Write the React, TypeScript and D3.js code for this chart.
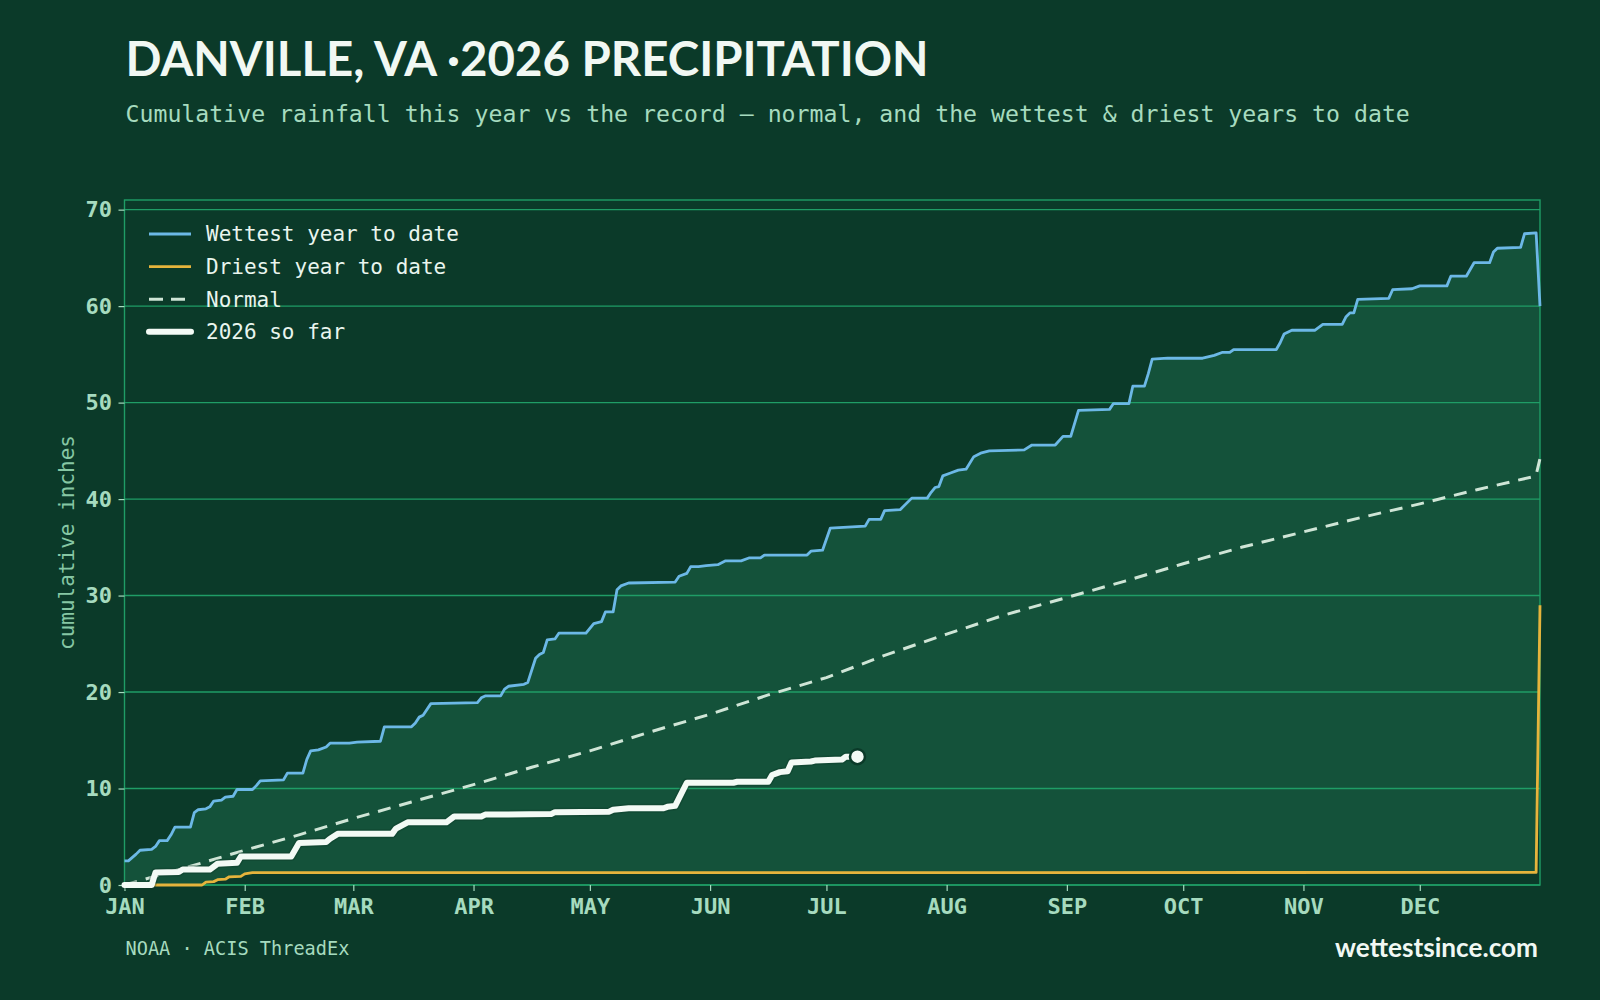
import { useEffect, useRef } from "react";
import * as d3 from "d3";

// day-of-year (0 = Jan 1) and cumulative inches
const wettest: [number, number][] = [
  [0, 2.5], [1, 2.5], [3, 3.2], [4, 3.6], [7, 3.7], [8, 4.0], [9, 4.6], [11, 4.6], [12, 5.2], [13, 6.0],
  [17, 6.0], [18, 7.5], [19, 7.8], [21, 7.9], [22, 8.1], [23, 8.7], [25, 8.8], [26, 9.1], [28, 9.2], [29, 9.9],
  [33, 9.9], [34, 10.3], [35, 10.8], [41, 10.9], [42, 11.6], [46, 11.6], [47, 13.0], [48, 13.9], [50, 14.0],
  [52, 14.3], [53, 14.7], [58, 14.7], [60, 14.8], [66, 14.9], [67, 16.4], [74, 16.4], [75, 16.8], [76, 17.4],
  [77, 17.6], [79, 18.8], [91, 18.9], [92, 19.4], [93, 19.6], [97, 19.6], [98, 20.3], [99, 20.6], [103, 20.8],
  [104, 21.0], [106, 23.5], [107, 23.9], [108, 24.1], [109, 25.4], [111, 25.5], [112, 26.1], [119, 26.1],
  [120, 26.6], [121, 27.1], [123, 27.3], [124, 28.3], [126, 28.3], [127, 30.6], [128, 31.0], [130, 31.3],
  [142, 31.4], [143, 32.0], [145, 32.3], [146, 33.0], [148, 33.0], [150, 33.1], [153, 33.2], [155, 33.6],
  [159, 33.6], [161, 33.9], [164, 33.9], [165, 34.2], [176, 34.2], [177, 34.6], [180, 34.7], [182, 37.0],
  [191, 37.2], [192, 37.9], [195, 37.9], [196, 38.8], [200, 38.9], [203, 40.1], [207, 40.1], [208, 40.7],
  [209, 41.2], [210, 41.3], [211, 42.4], [213, 42.7], [215, 43.0], [217, 43.1], [219, 44.4], [221, 44.8],
  [223, 45.0], [232, 45.1], [234, 45.6], [240, 45.6], [242, 46.5], [244, 46.5], [246, 49.2], [254, 49.3],
  [255, 49.9], [259, 49.9], [260, 51.7], [263, 51.7], [264, 53.0], [265, 54.5], [269, 54.6], [278, 54.6],
  [281, 54.9], [283, 55.2], [285, 55.2], [286, 55.5], [297, 55.5], [298, 56.2], [299, 57.1], [301, 57.5],
  [307, 57.5], [309, 58.1], [314, 58.1], [315, 58.9], [316, 59.3], [317, 59.3], [318, 60.7], [326, 60.8],
  [327, 61.7], [332, 61.8], [334, 62.1], [341, 62.1], [342, 63.1], [346, 63.1], [348, 64.5], [352, 64.5],
  [353, 65.6], [354, 66.0], [360, 66.1], [361, 67.5], [364, 67.6], [365, 60.0],
];

const driest: [number, number][] = [
  [0, 0], [20, 0], [21, 0.3], [23, 0.35], [24, 0.55], [26, 0.6], [27, 0.85], [30, 0.9], [31, 1.15],
  [33, 1.28], [364, 1.3], [365, 29.0],
];

const normal: [number, number][] = [
  [0, 0], [15, 1.7], [31, 3.6], [45, 5.2], [59, 6.9], [74, 8.6], [90, 10.4], [105, 12.2], [120, 13.9],
  [135, 15.8], [151, 17.7], [166, 19.7], [181, 21.5], [196, 23.8], [212, 26.0], [227, 28.0], [243, 29.8],
  [258, 31.5], [273, 33.3], [288, 35.0], [304, 36.6], [319, 38.1], [334, 39.5], [349, 41.0], [363, 42.3],
  [364, 42.5], [365, 44.2],
];

const thisYear: [number, number][] = [
  [0, 0], [7, 0], [8, 1.3], [14, 1.35], [15, 1.6], [22, 1.6], [24, 2.2], [29, 2.3], [30, 2.95], [43, 2.95],
  [45, 4.35], [52, 4.45], [53, 4.8], [55, 5.3], [69, 5.3], [70, 5.85], [73, 6.5], [83, 6.5], [85, 7.1],
  [92, 7.1], [93, 7.3], [110, 7.35], [111, 7.55], [125, 7.6], [126, 7.8], [130, 7.95], [139, 7.95],
  [140, 8.1], [142, 8.2], [143, 9.0], [145, 10.6], [157, 10.6], [158, 10.7], [166, 10.7], [167, 11.4],
  [169, 11.7], [171, 11.8], [172, 12.7], [177, 12.8], [178, 12.9], [185, 13.0], [186, 13.3], [189, 13.3],
];

const monthStarts = [0, 31, 59, 90, 120, 151, 181, 212, 243, 273, 304, 334];
const monthLabels = ["JAN", "FEB", "MAR", "APR", "MAY", "JUN", "JUL", "AUG", "SEP", "OCT", "NOV", "DEC"];
const yTicks = [0, 10, 20, 30, 40, 50, 60, 70];

const legendItems = [
  { label: "Wettest year to date", key: "wet" },
  { label: "Driest year to date", key: "dry" },
  { label: "Normal", key: "normal" },
  { label: "2026 so far", key: "now" },
];

const BG = "#0b3a29";
const FILL = "#14523a";
const GRID = "#1f9d66";
const MINT = "#a6dbbf";
const BLUE = "#6cb8e6";
const GOLD = "#e6b43c";
const PALE = "#cfe5d6";
const WHITE = "#f3faf5";
const MONO = "'DejaVu Sans Mono', monospace";
const SANS = "Lato, 'Open Sans', sans-serif";

const styles: Record<string, any> = {
  wet: { stroke: BLUE, width: 2.8, dash: null, cap: "butt" },
  dry: { stroke: GOLD, width: 2.8, dash: null, cap: "butt" },
  normal: { stroke: PALE, width: 3, dash: "13,9", cap: "butt" },
  now: { stroke: WHITE, width: 6, dash: null, cap: "round" },
};

export default function App() {
  const svgRef = useRef<SVGSVGElement>(null);

  useEffect(() => {
    const width = 1600;
    const height = 1000;
    const margin = { top: 200, right: 60, bottom: 115, left: 124.5 };

    const svg = d3.select(svgRef.current);
    svg.selectAll("*").remove();
    svg.attr("width", width).attr("height", height);

    svg.append("rect").attr("width", width).attr("height", height).attr("fill", BG);

    const x = d3.scaleLinear().domain([0, 365]).range([margin.left, width - margin.right]);
    const y = d3.scaleLinear().domain([0, 71]).range([height - margin.bottom, margin.top]);

    const line = d3
      .line<[number, number]>()
      .x((d) => x(d[0]))
      .y((d) => y(d[1]));

    // band between wettest and driest
    const band = [...wettest, ...driest.slice().reverse()];
    svg.append("path").attr("d", line(band) + "Z").attr("fill", FILL);

    // horizontal grid
    svg
      .append("g")
      .selectAll("line")
      .data(yTicks)
      .join("line")
      .attr("x1", x(0))
      .attr("x2", x(365))
      .attr("y1", (d) => y(d))
      .attr("y2", (d) => y(d))
      .attr("stroke", GRID)
      .attr("stroke-width", 1.4);

    // frame
    svg
      .append("rect")
      .attr("x", x(0))
      .attr("y", margin.top)
      .attr("width", x(365) - x(0))
      .attr("height", y(0) - margin.top)
      .attr("fill", "none")
      .attr("stroke", GRID)
      .attr("stroke-width", 1.4);

    const yAxis = svg
      .append("g")
      .attr("transform", `translate(${x(0)},0)`)
      .call(d3.axisLeft(y).tickValues(yTicks).tickSize(6).tickPadding(6.5));
    yAxis.select(".domain").remove();
    yAxis.selectAll("line").attr("stroke", MINT).attr("stroke-width", 1.2);
    yAxis
      .selectAll("text")
      .attr("fill", MINT)
      .style("font-family", MONO)
      .style("font-weight", "bold")
      .style("font-size", "22px");

    const xAxis = svg
      .append("g")
      .attr("transform", `translate(0,${y(0)})`)
      .call(
        d3
          .axisBottom(x)
          .tickValues(monthStarts)
          .tickFormat((d, i) => monthLabels[i])
          .tickSize(6)
          .tickPadding(7)
      );
    xAxis.select(".domain").remove();
    xAxis.selectAll("line").attr("stroke", MINT).attr("stroke-width", 1.2);
    xAxis
      .selectAll("text")
      .attr("fill", MINT)
      .style("font-family", MONO)
      .style("font-weight", "bold")
      .style("font-size", "22px");

    const drawLine = (data: [number, number][], key: string) => {
      const s = styles[key];
      svg
        .append("path")
        .attr("d", line(data))
        .attr("fill", "none")
        .attr("stroke", s.stroke)
        .attr("stroke-width", s.width)
        .attr("stroke-linejoin", "round")
        .attr("stroke-linecap", s.cap)
        .attr("stroke-dasharray", s.dash);
    };

    drawLine(driest, "dry");
    drawLine(wettest, "wet");
    drawLine(normal, "normal");

    // soft dark halo under this year's line
    svg
      .append("path")
      .attr("d", line(thisYear))
      .attr("fill", "none")
      .attr("stroke", BG)
      .attr("stroke-opacity", 0.35)
      .attr("stroke-width", 9)
      .attr("stroke-linejoin", "round");
    drawLine(thisYear, "now");

    const last = thisYear[thisYear.length - 1];
    svg
      .append("circle")
      .attr("cx", x(last[0]))
      .attr("cy", y(last[1]))
      .attr("r", 7.5)
      .attr("fill", WHITE)
      .attr("stroke", BG)
      .attr("stroke-width", 2.5);

    // legend
    const legend = svg
      .append("g")
      .selectAll("g")
      .data(legendItems)
      .join("g")
      .attr("transform", (d, i) => `translate(149,${234 + i * 32.6})`);
    legend
      .append("line")
      .attr("x1", 0)
      .attr("x2", 42)
      .attr("stroke", (d) => styles[d.key].stroke)
      .attr("stroke-width", (d) => styles[d.key].width)
      .attr("stroke-linecap", (d) => styles[d.key].cap)
      .attr("stroke-dasharray", (d) => (d.key === "normal" ? "14,8" : null));
    legend
      .append("text")
      .attr("x", 57)
      .attr("dy", "0.35em")
      .attr("fill", "#e9f5ee")
      .style("font-family", MONO)
      .style("font-size", "21px")
      .text((d) => d.label);

    // y axis title
    svg
      .append("text")
      .attr("transform", `translate(67,${(margin.top + y(0)) / 2}) rotate(-90)`)
      .attr("text-anchor", "middle")
      .attr("dy", "0.35em")
      .attr("fill", "#86c7a4")
      .style("font-family", MONO)
      .style("font-size", "21px")
      .text("cumulative inches");

    // headings
    svg
      .append("text")
      .attr("x", 125.5)
      .attr("y", 75.5)
      .attr("fill", "#f1f8f3")
      .attr("textLength", 803)
      .attr("lengthAdjust", "spacingAndGlyphs")
      .style("font-family", SANS)
      .style("font-weight", "700")
      .style("font-size", "47px")
      .text("DANVILLE, VA ·2026 PRECIPITATION");

    svg
      .append("text")
      .attr("x", 125.5)
      .attr("y", 122)
      .attr("fill", MINT)
      .style("font-family", MONO)
      .style("font-size", "23.2px")
      .text("Cumulative rainfall this year vs the record — normal, and the wettest & driest years to date");

    // footer
    svg
      .append("text")
      .attr("x", 125.5)
      .attr("y", 955)
      .attr("fill", MINT)
      .style("font-family", MONO)
      .style("font-size", "18.6px")
      .text("NOAA · ACIS ThreadEx");

    svg
      .append("text")
      .attr("x", 1538)
      .attr("y", 957)
      .attr("text-anchor", "end")
      .attr("fill", "#f1f8f3")
      .attr("textLength", 203)
      .attr("lengthAdjust", "spacingAndGlyphs")
      .style("font-family", SANS)
      .style("font-weight", "700")
      .style("font-size", "27px")
      .text("wettestsince.com");
  }, []);

  return (
    <>
      <style>{"body{margin:0;background:#0b3a29}"}</style>
      <svg ref={svgRef} style={{ display: "block" }}></svg>
    </>
  );
}
